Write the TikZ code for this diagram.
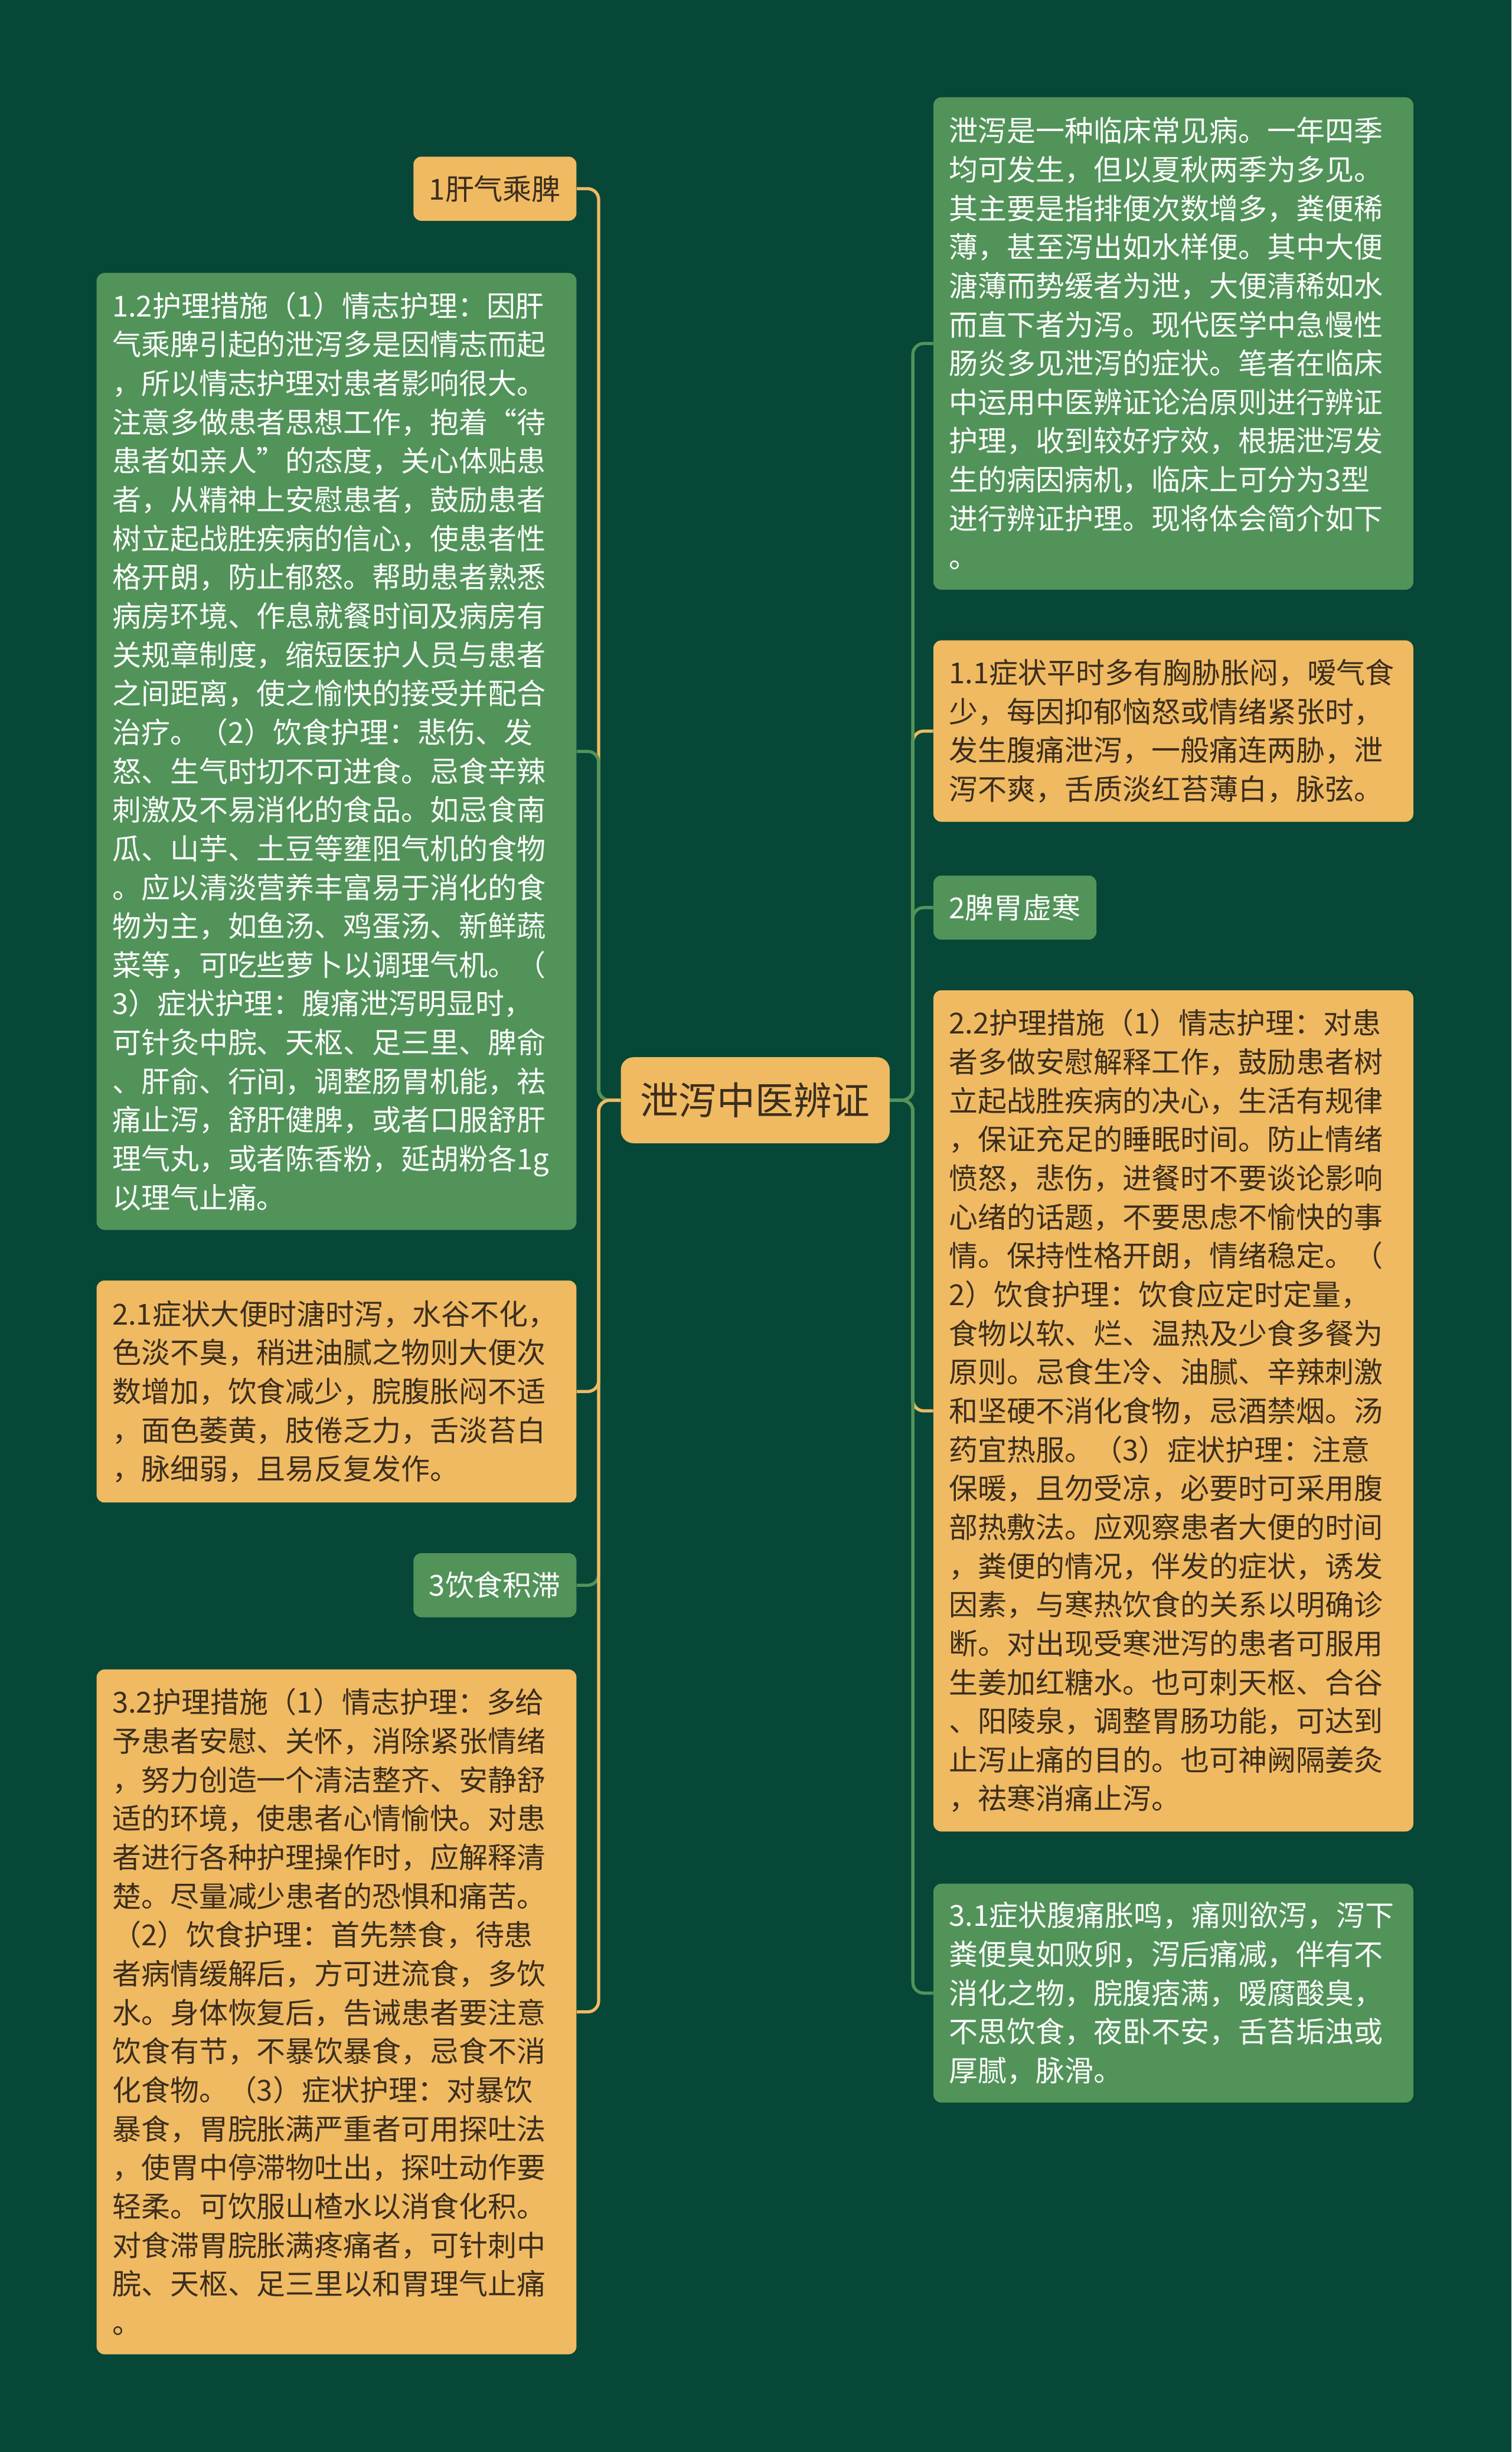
\documentclass[tikz,border=0pt]{standalone}
\usepackage{fontspec}
\setmainfont{Noto Sans CJK SC}
\usetikzlibrary{positioning}

\definecolor{bgdark}{HTML}{074738}
\definecolor{leafgreen}{HTML}{52935A}
\definecolor{leafgold}{HTML}{F0BA62}
\definecolor{inkdark}{HTML}{3B2E1E}

\begin{document}
\begin{tikzpicture}[x=1pt, y=-1pt,
        hub/.style = {
            rectangle,
            fill=leafgold,
            text=inkdark,
            rounded corners=8pt,
            font=\fontsize{24.5}{30}\selectfont,
            inner xsep=12.5pt,
            minimum height=55pt
        },
        topic/.style = {
            rectangle,
            rounded corners=5pt,
            font=\fontsize{18.5}{24.8}\selectfont,
            inner xsep=10pt,
            minimum height=41pt
        },
        note/.style = {
            rectangle,
            rounded corners=5pt,
            font=\fontsize{18.5}{24.8}\selectfont,
            text width=287pt,
            align=left,
            inner xsep=10pt,
            inner ysep=5pt
        },
        gold_fill/.style = {fill=leafgold, text=inkdark},
        green_fill/.style = {fill=leafgreen, text=white},
        link/.style = {draw=#1, line width=2pt, rounded corners=7pt}  ]

        \useasboundingbox (0,0) rectangle (967,1568.3);
        \fill[bgdark] (0,0) rectangle (967,1568.3);

        \node (hub) [hub, anchor=north west] at (397,676) {泄泻中医辨证};

        \node (gan_pi) [topic, gold_fill, anchor=north east] at (369,100) {1肝气乘脾};
        \node (gan_pi_care) [note, green_fill, minimum height=612pt, below=33pt of gan_pi.south east, anchor=north east]
            {1.2护理措施（1）情志护理：因肝\\气乘脾引起的泄泻多是因情志而起\\，所以情志护理对患者影响很大。\\注意多做患者思想工作，抱着“待\\患者如亲人”的态度，关心体贴患\\者，从精神上安慰患者，鼓励患者\\树立起战胜疾病的信心，使患者性\\格开朗，防止郁怒。帮助患者熟悉\\病房环境、作息就餐时间及病房有\\关规章制度，缩短医护人员与患者\\之间距离，使之愉快的接受并配合\\治疗。（2）饮食护理：悲伤、发\\怒、生气时切不可进食。忌食辛辣\\刺激及不易消化的食品。如忌食南\\瓜、山芋、土豆等壅阻气机的食物\\。应以清淡营养丰富易于消化的食\\物为主，如鱼汤、鸡蛋汤、新鲜蔬\\菜等，可吃些萝卜以调理气机。（\\3）症状护理：腹痛泄泻明显时，\\可针灸中脘、天枢、足三里、脾俞\\、肝俞、行间，调整肠胃机能，祛\\痛止泻，舒肝健脾，或者口服舒肝\\理气丸，或者陈香粉，延胡粉各1g\\以理气止痛。};
        \node (pi_wei_sign) [note, gold_fill, minimum height=142pt, below=32pt of gan_pi_care.south east, anchor=north east]
            {2.1症状大便时溏时泻，水谷不化，\\色淡不臭，稍进油腻之物则大便次\\数增加，饮食减少，脘腹胀闷不适\\，面色萎黄，肢倦乏力，舌淡苔白\\，脉细弱，且易反复发作。};
        \node (shi_zhi) [topic, green_fill, below=32pt of pi_wei_sign.south east, anchor=north east] {3饮食积滞};
        \node (shi_zhi_care) [note, gold_fill, minimum height=438pt, below=33pt of shi_zhi.south east, anchor=north east]
            {3.2护理措施（1）情志护理：多给\\予患者安慰、关怀，消除紧张情绪\\，努力创造一个清洁整齐、安静舒\\适的环境，使患者心情愉快。对患\\者进行各种护理操作时，应解释清\\楚。尽量减少患者的恐惧和痛苦。\\（2）饮食护理：首先禁食，待患\\者病情缓解后，方可进流食，多饮\\水。身体恢复后，告诫患者要注意\\饮食有节，不暴饮暴食，忌食不消\\化食物。（3）症状护理：对暴饮\\暴食，胃脘胀满严重者可用探吐法\\，使胃中停滞物吐出，探吐动作要\\轻柔。可饮服山楂水以消食化积。\\对食滞胃脘胀满疼痛者，可针刺中\\脘、天枢、足三里以和胃理气止痛\\。};

        \node (intro) [note, green_fill, minimum height=315pt, anchor=north west] at (597,62)
            {泄泻是一种临床常见病。一年四季\\均可发生，但以夏秋两季为多见。\\其主要是指排便次数增多，粪便稀\\薄，甚至泻出如水样便。其中大便\\溏薄而势缓者为泄，大便清稀如水\\而直下者为泻。现代医学中急慢性\\肠炎多见泄泻的症状。笔者在临床\\中运用中医辨证论治原则进行辨证\\护理，收到较好疗效，根据泄泻发\\生的病因病机，临床上可分为3型\\进行辨证护理。现将体会简介如下\\。};
        \node (gan_pi_sign) [note, gold_fill, minimum height=116pt, below=32pt of intro.south west, anchor=north west]
            {1.1症状平时多有胸胁胀闷，嗳气食\\少，每因抑郁恼怒或情绪紧张时，\\发生腹痛泄泻，一般痛连两胁，泄\\泻不爽，舌质淡红苔薄白，脉弦。};
        \node (pi_wei) [topic, green_fill, below=34pt of gan_pi_sign.south west, anchor=north west] {2脾胃虚寒};
        \node (pi_wei_care) [note, gold_fill, minimum height=538pt, below=32pt of pi_wei.south west, anchor=north west]
            {2.2护理措施（1）情志护理：对患\\者多做安慰解释工作，鼓励患者树\\立起战胜疾病的决心，生活有规律\\，保证充足的睡眠时间。防止情绪\\愤怒，悲伤，进餐时不要谈论影响\\心绪的话题，不要思虑不愉快的事\\情。保持性格开朗，情绪稳定。（\\2）饮食护理：饮食应定时定量，\\食物以软、烂、温热及少食多餐为\\原则。忌食生冷、油腻、辛辣刺激\\和坚硬不消化食物，忌酒禁烟。汤\\药宜热服。（3）症状护理：注意\\保暖，且勿受凉，必要时可采用腹\\部热敷法。应观察患者大便的时间\\，粪便的情况，伴发的症状，诱发\\因素，与寒热饮食的关系以明确诊\\断。对出现受寒泄泻的患者可服用\\生姜加红糖水。也可刺天枢、合谷\\、阳陵泉，调整胃肠功能，可达到\\止泻止痛的目的。也可神阙隔姜灸\\，祛寒消痛止泻。};
        \node (shi_zhi_sign) [note, green_fill, minimum height=140pt, below=33pt of pi_wei_care.south west, anchor=north west]
            {3.1症状腹痛胀鸣，痛则欲泻，泻下\\粪便臭如败卵，泻后痛减，伴有不\\消化之物，脘腹痞满，嗳腐酸臭，\\不思饮食，夜卧不安，舌苔垢浊或\\厚腻，脉滑。};

        \coordinate (left_trunk) at (383,0);
        \coordinate (right_trunk) at (584,0);

        \foreach \leaf/\col in {gan_pi/leafgold, shi_zhi/leafgreen, gan_pi_care/leafgreen, pi_wei_sign/leafgold, shi_zhi_care/leafgold}
            \draw[link=\col] (hub.west) -- (hub.west -| left_trunk) -- (left_trunk |- \leaf.east) -- (\leaf.east);
        \foreach \leaf/\col in {pi_wei_care/leafgold, gan_pi_sign/leafgold, intro/leafgreen, pi_wei/leafgreen, shi_zhi_sign/leafgreen}
            \draw[link=\col] (hub.east) -- (hub.east -| right_trunk) -- (right_trunk |- \leaf.west) -- (\leaf.west);
    \end{tikzpicture}
\end{document}
